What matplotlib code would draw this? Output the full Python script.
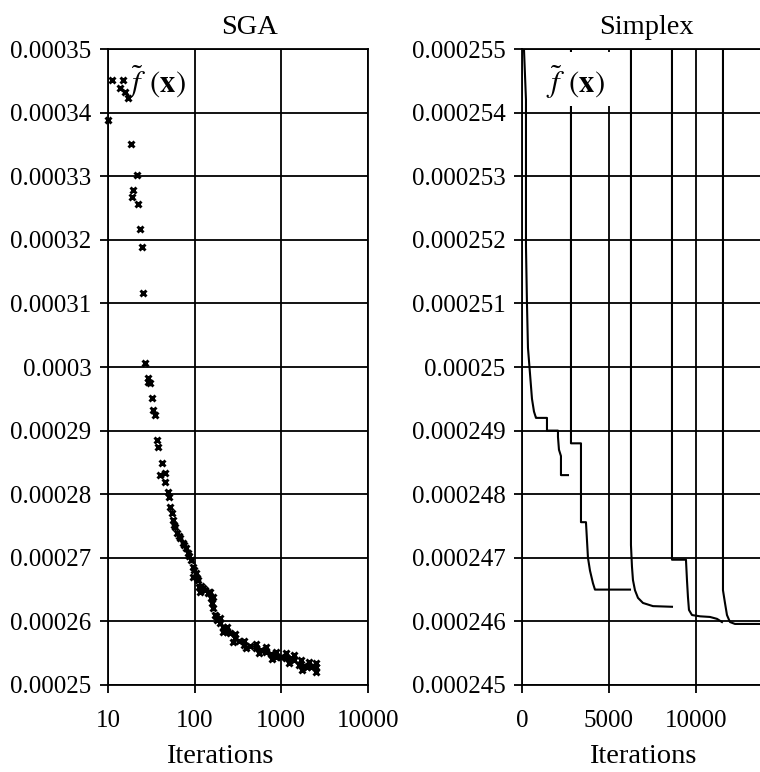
import matplotlib
matplotlib.use('Agg')
import matplotlib.pyplot as plt
from matplotlib.patches import Rectangle

plt.rcParams['font.family'] = ['Liberation Serif', 'DejaVu Serif']
plt.rcParams['mathtext.fontset'] = 'stix'

# SGA: best fitness vs iteration (log x)
sga_iter = [11.1, 14.9, 13.7, 15.7, 17.0, 10.0, 18.4, 21.5, 19.4, 18.9, 22.1, 23.3,
            24.6, 25.3, 26.6, 28.8, 28.8, 30.4, 32.0, 32.9, 34.7, 36.6, 37.6, 41.8,
            39.6, 45.2, 45.2, 48.9, 50.2, 51.6, 54.4, 55.8, 58.9, 62.1, 67.3, 72.8,
            78.8, 83.1, 90.0, 94.8, 102.6, 108.2, 111.2, 123.6, 141.0, 148.6, 156.8,
            169.8, 193.8, 233.3, 288.3, 375.6, 516, 673, 877, 1141, 1410, 1610, 1991,
            2525,
            # lower edge of the band
            94.8, 114.1, 161.0, 179.0, 209.8, 273.5, 396, 558, 788, 1236, 1742, 2525,
            # upper edge of the band
            193.8, 233.3, 288.3, 375.6, 516, 673, 877, 1141, 1410, 1709, 2103, 2525,
            # more readings along the band
            329, 440, 589, 767, 1000, 1303, 1837, 2213,
            57.4, 65.5, 74.8, 85.3, 97.4, 105.5, 117.3, 130.3, 144.8, 152.8, 161.0,
            174.3, 209.8, 252.6]
sga_fit = [0.0003451, 0.0003451, 0.0003439, 0.0003432, 0.0003423, 0.0003388,
           0.0003351, 0.0003302, 0.0003278, 0.0003267, 0.0003256, 0.0003217,
           0.0003189, 0.0003116, 0.0003006, 0.0002983, 0.0002976, 0.0002975,
           0.0002951, 0.0002932, 0.0002925, 0.0002885, 0.0002874, 0.0002849,
           0.0002830, 0.0002833, 0.0002819, 0.0002803, 0.0002796, 0.0002780,
           0.0002770, 0.0002759, 0.0002748, 0.0002739, 0.0002731, 0.0002723,
           0.0002715, 0.0002708, 0.0002697, 0.0002686, 0.0002676, 0.0002665,
           0.0002654, 0.0002653, 0.0002645, 0.0002646, 0.0002629, 0.0002610,
           0.0002597, 0.0002583, 0.0002574, 0.0002563, 0.0002558, 0.0002552,
           0.0002544, 0.0002542, 0.0002539, 0.0002531, 0.0002528, 0.0002528,
           0.0002670, 0.0002646, 0.0002638, 0.0002602, 0.0002583, 0.0002568,
           0.0002558, 0.0002550, 0.0002541, 0.0002535, 0.0002524, 0.0002520,
           0.0002605, 0.0002591, 0.0002580, 0.0002569, 0.0002564, 0.0002560,
           0.0002552, 0.0002550, 0.0002547, 0.0002539, 0.0002536, 0.0002535,
           0.0002569, 0.0002561, 0.0002555, 0.0002549, 0.0002544, 0.0002542,
           0.0002530, 0.0002528,
           0.0002752, 0.0002734, 0.0002720, 0.0002703, 0.0002681, 0.0002668,
           0.0002656, 0.0002649, 0.0002646, 0.0002637, 0.0002621, 0.0002609,
           0.0002591, 0.0002582]

# Simplex: five restarts, each a step curve
simplex_runs = [
    ([100, 115, 230, 230, 287, 345, 460, 575, 690, 805, 862, 1437, 1437, 2069, 2069,
      2126, 2241, 2241, 2644],
     [0.000257, 0.000255, 0.0002542, 0.0002519, 0.0002510, 0.0002503, 0.0002499,
      0.0002495, 0.0002493, 0.0002492, 0.0002492, 0.0002492, 0.0002490, 0.0002490,
      0.0002489, 0.0002487, 0.0002486, 0.0002483, 0.0002483]),
    ([2816, 2816, 3391, 3391, 3678, 3793, 3908, 4080, 4195, 4483, 6207],
     [0.000257, 0.0002488, 0.0002488, 0.00024756, 0.00024756, 0.0002470,
      0.0002468, 0.0002466, 0.0002465, 0.0002465, 0.0002465]),
    ([6264, 6264, 6322, 6379, 6494, 6667, 6954, 7529, 8621],
     [0.000257, 0.0002472, 0.00024686, 0.00024665, 0.00024649, 0.00024637,
      0.00024629, 0.00024624, 0.00024623]),
    ([8621, 8621, 9425, 9483, 9540, 9598, 9770, 10230, 10805, 11207, 11494],
     [0.000257, 0.00024697, 0.00024697, 0.00024665, 0.00024638, 0.00024618,
      0.0002461, 0.00024608, 0.00024607, 0.00024604, 0.00024599]),
    ([11552, 11552, 11667, 11782, 11954, 12241, 13563, 13700],
     [0.000257, 0.00024649, 0.00024629, 0.0002461, 0.00024599, 0.00024596,
      0.00024596, 0.00024596]),
]

sga_yticks = [0.00025, 0.00026, 0.00027, 0.00028, 0.00029, 0.0003,
              0.00031, 0.00032, 0.00033, 0.00034, 0.00035]
sga_ylabels = ['0.00025', '0.00026', '0.00027', '0.00028', '0.00029', '0.0003',
               '0.00031', '0.00032', '0.00033', '0.00034', '0.00035']
sga_xticks = [10, 100, 1000, 10000]
sga_xlabels = ['10', '100', '1000', '10000']

simplex_yticks = [0.000245, 0.000246, 0.000247, 0.000248, 0.000249, 0.00025,
                  0.000251, 0.000252, 0.000253, 0.000254, 0.000255]
simplex_ylabels = ['0.000245', '0.000246', '0.000247', '0.000248', '0.000249',
                   '0.00025', '0.000251', '0.000252', '0.000253', '0.000254',
                   '0.000255']
simplex_xticks = [0, 5000, 10000]
simplex_xlabels = ['0', '5000', '10000']

fig = plt.figure(figsize=(7.6, 7.72), dpi=100)
ax1 = fig.add_axes([0.1421, 0.1127, 0.3421, 0.8238])
ax2 = fig.add_axes([0.6868, 0.1127, 0.3132, 0.8238])

tick_fs = 18
label_fs = 20.5
fx_label = r'$\tilde{f}\;\,(\mathbf{x})$'

for ax in (ax1, ax2):
    ax.grid(True, color='black', linewidth=1.3, zorder=1)
    ax.set_axisbelow(True)
    ax.tick_params(direction='out', length=6, width=1.3, labelsize=tick_fs, color='black')
    ax.tick_params(axis='x', pad=12)
    ax.tick_params(axis='y', pad=6)
    for s in ax.spines.values():
        s.set_color('black')
        s.set_linewidth(1.3)

# --- SGA ---
ax1.plot(sga_iter, sga_fit, linestyle='none', marker='x', color='black',
         markersize=5, markeredgewidth=2.1, zorder=3, clip_on=False)
ax1.set_xscale('log')
ax1.set_xlim(10, 10000)
ax1.set_ylim(0.00025, 0.00035)
ax1.set_xticks(sga_xticks)
ax1.set_xticklabels(sga_xlabels)
ax1.minorticks_off()
ax1.set_yticks(sga_yticks)
ax1.set_yticklabels(sga_ylabels)
ax1.set_title('SGA', fontsize=label_fs, pad=11, x=0.545)
ax1.set_xlabel('Iterations', fontsize=label_fs)
ax1.xaxis.set_label_coords(0.43, -0.092)
ax1.text(0.072, 0.948, fx_label, transform=ax1.transAxes,
         fontsize=22, ha='left', va='center', zorder=5)

# --- Simplex ---
for xs, ys in simplex_runs:
    ax2.plot(xs, ys, color='black', linewidth=1.5, zorder=3)
ax2.set_xlim(0, 13680)
ax2.set_ylim(0.000245, 0.000255)
ax2.set_xticks(simplex_xticks)
ax2.set_xticklabels(simplex_xlabels)
ax2.set_yticks(simplex_yticks)
ax2.set_yticklabels(simplex_ylabels)
ax2.spines['right'].set_visible(False)
ax2.set_title('Simplex', fontsize=label_fs, pad=11, x=0.525)
ax2.set_xlabel('Iterations', fontsize=label_fs)
ax2.xaxis.set_label_coords(0.508, -0.092)
ax2.add_patch(Rectangle((0.055, 0.910), 0.34, 0.085, transform=ax2.transAxes,
                        facecolor='white', edgecolor='none', zorder=4))
ax2.text(0.1, 0.948, fx_label, transform=ax2.transAxes,
         fontsize=22, ha='left', va='center', zorder=5)

fig.savefig('out.png', dpi=100)
